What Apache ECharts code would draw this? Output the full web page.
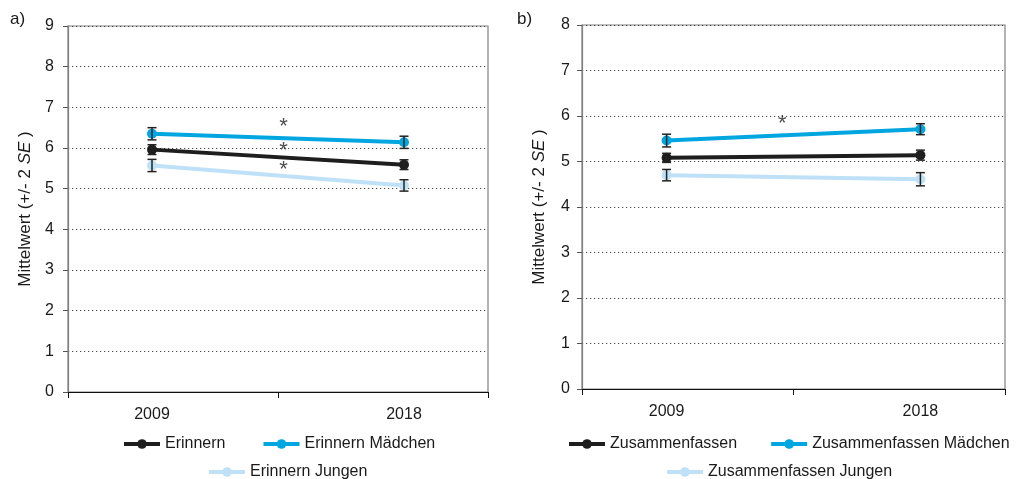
<!DOCTYPE html>
<html>
<head>
<meta charset="utf-8">
<script src="https://cdn.jsdelivr.net/npm/echarts@6/dist/echarts.min.js"></script>
<style>
html,body{margin:0;padding:0;background:#fff;}
#c{width:1024px;height:479px;}
</style>
</head>
<body>
<div id="c"></div>
<script>
// ---- data ----
const years = [2009, 2018];
const erinnern = [5.96, 5.59];
const erinnernSE = [0.12, 0.12];
const erinnernM = [6.35, 6.14];
const erinnernMSE = [0.15, 0.15];
const erinnernJ = [5.57, 5.08];
const erinnernJSE = [0.15, 0.14];
const zus = [5.08, 5.14];
const zusSE = [0.10, 0.11];
const zusM = [5.46, 5.71];
const zusMSE = [0.14, 0.12];
const zusJ = [4.70, 4.61];
const zusJSE = [0.125, 0.145];
const starsA = [[2013.7, 6.63], [2013.7, 6.06], [2013.7, 5.59]];
const starsB = [[2013.1, 5.93]];
const namesA = ['Erinnern', 'Erinnern Mädchen', 'Erinnern Jungen'];
const namesB = ['Zusammenfassen', 'Zusammenfassen Mädchen', 'Zusammenfassen Jungen'];
const yTicksA = [0, 9];
const yTicksB = [0, 8];

const cBlack = '#1e1e1e', cBlue = '#00a6df', cLight = '#bfe1f7';
const font = 'Liberation Sans, Arial, sans-serif';

function pts(vals){ return years.map((y,i)=>[y, vals[i]]); }
function errData(vals, se){ return years.map((y,i)=>[y, vals[i]-se[i], vals[i]+se[i]]); }

function lineSeries(name, vals, color, idx){
  return {
    name, type:'line', xAxisIndex:idx, yAxisIndex:idx, data:pts(vals),
    symbol:'circle', symbolSize:10, z:3,
    lineStyle:{color, width:4}, itemStyle:{color},
    emphasis:{disabled:true}, animation:false
  };
}
function errSeries(vals, se, idx){
  return {
    type:'custom', xAxisIndex:idx, yAxisIndex:idx, data:errData(vals, se), z:4, animation:false,
    renderItem(params, api){
      const x = api.value(0);
      const lo = api.coord([x, api.value(1)]);
      const hi = api.coord([x, api.value(2)]);
      const w = 4.5;
      const st = {stroke:'#222', lineWidth:1.5};
      return {type:'group', children:[
        {type:'line', shape:{x1:lo[0], y1:lo[1], x2:hi[0], y2:hi[1]}, style:st},
        {type:'line', shape:{x1:lo[0]-w, y1:lo[1], x2:lo[0]+w, y2:lo[1]}, style:st},
        {type:'line', shape:{x1:hi[0]-w, y1:hi[1], x2:hi[0]+w, y2:hi[1]}, style:st}
      ]};
    }
  };
}
function starSeries(data, idx){
  return {
    type:'scatter', xAxisIndex:idx, yAxisIndex:idx, data, symbolSize:1, itemStyle:{color:'rgba(0,0,0,0)'},
    z:5, animation:false, silent:true,
    label:{show:true, formatter:'*', position:'inside', fontSize:22, color:'#222', fontFamily:font, offset:[0,5]}
  };
}

function xAxis(idx){
  return {
    type:'value', gridIndex:idx, min:2006, max:2021,
    splitLine:{show:false},
    axisLine:{show:true, lineStyle:{color:'#111', width:1.2}},
    axisTick:{show:true, customValues:[2006, 2013.5, 2021], length:6, lineStyle:{color:'#111', width:1}},
    axisLabel:{customValues:years, formatter:v=>String(v), fontSize:16, color:'#1a1a1a', margin:15, fontFamily:font}
  };
}
function yAxis(idx, ticks, gap, lm){
  return {
    type:'value', gridIndex:idx, min:ticks[0], max:ticks[1], interval:1,
    name:'Mittelwert (+/- 2 {i|SE} )', nameLocation:'middle', nameGap:gap,
    nameTextStyle:{fontSize:17, color:'#1a1a1a', fontFamily:font, rich:{i:{fontStyle:'italic', fontSize:17, color:'#1a1a1a', fontFamily:font}}},
    axisLine:{show:true, lineStyle:{color:'#808080', width:1.2}},
    axisTick:{show:true, length:5, lineStyle:{color:'#555'}},
    axisLabel:{fontSize:16, color:'#1a1a1a', margin:lm, fontFamily:font},
    splitLine:{show:true, lineStyle:{color:'#444', type:[1.2,2.8], width:1}}
  };
}

const chart = echarts.init(document.getElementById('c'), null, {renderer:'canvas'});
const legendBase = {
  itemWidth:36, itemHeight:12, itemGap:36, textStyle:{fontSize:16, color:'#1a1a1a', fontFamily:font},
  selectedMode:false, orient:'horizontal', lineStyle:{width:4}
};
chart.setOption({
  animation:false,
  backgroundColor:'#fff',
  graphic:[
    {type:'text', left:10, top:11, style:{text:'a)', fontSize:17, fill:'#1a1a1a', fontFamily:font}},
    {type:'text', left:517, top:11, style:{text:'b)', fontSize:17, fill:'#1a1a1a', fontFamily:font}}
  ],
  grid:[
    {left:68, right:536, top:26, bottom:87, show:true, borderColor:'#808080', borderWidth:1.2, backgroundColor:'transparent'},
    {left:582, right:19, top:25, bottom:90, show:true, borderColor:'#808080', borderWidth:1.2, backgroundColor:'transparent'}
  ],
  xAxis:[xAxis(0), xAxis(1)],
  yAxis:[yAxis(0, yTicksA, 34, 14), yAxis(1, yTicksB, 34, 12)],
  legend:[
    Object.assign({}, legendBase, {left:117, top:431, data:[namesA[0], namesA[1]]}),
    Object.assign({}, legendBase, {left:202, top:459, data:[namesA[2]]}),
    Object.assign({}, legendBase, {left:562, top:431, itemGap:32, data:[namesB[0], namesB[1]]}),
    Object.assign({}, legendBase, {left:660, top:459, data:[namesB[2]]})
  ],
  series:[
    errSeries(erinnernJ, erinnernJSE, 0),
    errSeries(erinnern, erinnernSE, 0),
    errSeries(erinnernM, erinnernMSE, 0),
    lineSeries(namesA[2], erinnernJ, cLight, 0),
    lineSeries(namesA[0], erinnern, cBlack, 0),
    lineSeries(namesA[1], erinnernM, cBlue, 0),
    starSeries(starsA, 0),
    errSeries(zusJ, zusJSE, 1),
    errSeries(zus, zusSE, 1),
    errSeries(zusM, zusMSE, 1),
    lineSeries(namesB[2], zusJ, cLight, 1),
    lineSeries(namesB[0], zus, cBlack, 1),
    lineSeries(namesB[1], zusM, cBlue, 1),
    starSeries(starsB, 1)
  ]
});
</script>
</body>
</html>
